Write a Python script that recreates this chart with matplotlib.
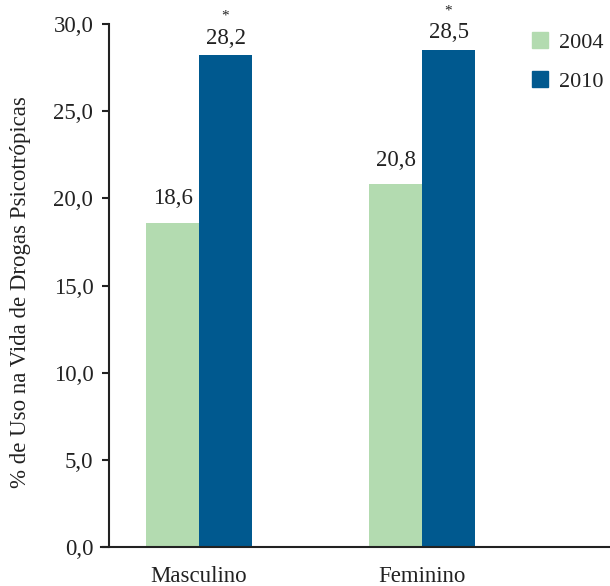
import numpy as np
import matplotlib.pyplot as plt
from matplotlib.patches import Patch

categories = ["Masculino", "Feminino"]
years = ["2004", "2010"]
values_2004 = [18.6, 20.8]
values_2010 = [28.2, 28.5]
significant_2010 = [True, True]
yticks = [0, 5, 10, 15, 20, 25, 30]

green = "#b3dbb0"
blue = "#00598f"
ink = "#222222"

plt.rcParams['font.family'] = ['Liberation Serif', 'DejaVu Serif']

fig = plt.figure(figsize=(6.10, 5.86), dpi=100)
ax = fig.add_axes([101 / 610, 39 / 586, 509 / 610, 523 / 586])

# spine offset first: set_position resets tick formatting
for s in ["top", "right"]:
    ax.spines[s].set_visible(False)
ax.spines["left"].set_position(("axes", 8 / 509))
for s in ["left", "bottom"]:
    ax.spines[s].set_linewidth(1.5)
    ax.spines[s].set_color(ink)

x = np.arange(len(categories))
width = 0.2377

bars1 = ax.bar(x - width / 2, values_2004, width, color=green)
bars2 = ax.bar(x + width / 2, values_2010, width, color=blue)

for bar, v in zip(bars1, values_2004):
    ax.annotate(f"{v:.1f}".replace(".", ","), (bar.get_x() + bar.get_width() / 2, v),
                xytext=(0, 13.5), textcoords="offset points", ha="center", va="baseline",
                fontsize=16.5, color=ink)

for bar, v, sig in zip(bars2, values_2010, significant_2010):
    cx = bar.get_x() + bar.get_width() / 2
    ax.annotate(f"{v:.1f}".replace(".", ","), (cx, v),
                xytext=(0, 8.5), textcoords="offset points", ha="center", va="baseline",
                fontsize=16.5, color=ink)
    if sig:
        ax.annotate("*", (cx, v), xytext=(0, 25.5), textcoords="offset points",
                    ha="center", va="baseline", fontsize=11, color=ink)

ax.set_xlim(-0.4395, 1.843)
ax.set_ylim(0, 30)
ax.set_yticks(yticks)
ax.set_yticklabels([f"{t:.1f}".replace(".", ",") for t in yticks])
ax.set_xticks(x)
ax.set_xticklabels(categories)
ax.tick_params(axis="x", length=0, pad=14, labelsize=16.5, labelcolor=ink)
ax.tick_params(axis="y", length=5.3, width=1.5, pad=6, color=ink, labelsize=16.5, labelcolor=ink)

fig.text(21 / 610, 1 - 292 / 586, "% de Uso na Vida de Drogas Psicotrópicas",
         rotation=90, ha="center", va="center", fontsize=16.5, color=ink)

handles = [Patch(color=green), Patch(color=blue)]
leg = fig.legend(handles, years, loc="upper left", bbox_to_anchor=(523 / 610, 1 - 23 / 586),
                 frameon=False, fontsize=16, handlelength=0.72, handleheight=0.72,
                 handletextpad=0.5, labelspacing=0.85, borderaxespad=0)
for t in leg.get_texts():
    t.set_color(ink)

fig.savefig("out.png", dpi=100)
